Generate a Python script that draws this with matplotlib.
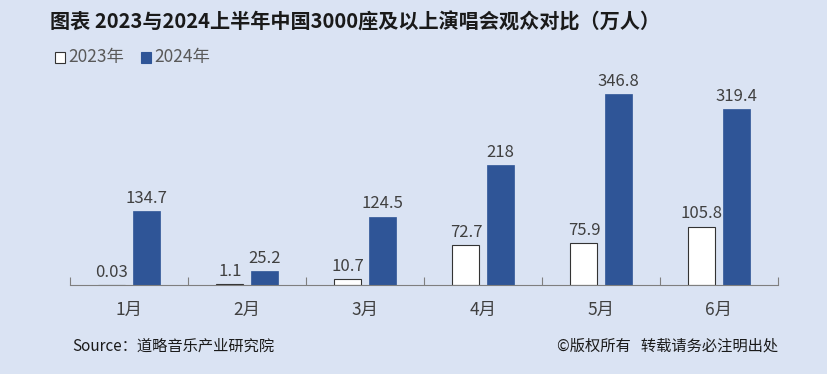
import matplotlib
matplotlib.use("Agg")
import matplotlib.pyplot as plt
import numpy as np
from matplotlib.patches import Rectangle

plt.rcParams['font.family'] = ['Noto Sans CJK SC', 'DejaVu Sans']

months = ["1月", "2月", "3月", "4月", "5月", "6月"]
v2023 = [0.03, 1.1, 10.7, 72.7, 75.9, 105.8]
v2024 = [134.7, 25.2, 124.5, 218, 346.8, 319.4]
labels2023 = ["0.03", "1.1", "10.7", "72.7", "75.9", "105.8"]
labels2024 = ["134.7", "25.2", "124.5", "218", "346.8", "319.4"]

W, H = 828, 374
bg = "#dae3f3"
blue = "#2f5597"
fig = plt.figure(figsize=(W/100, H/100), dpi=100, facecolor=bg)

ax_l, ax_r, ax_b, ax_t = 70, 778, 285, 65
ax = fig.add_axes([ax_l/W, 1-ax_b/H, (ax_r-ax_l)/W, (ax_b-ax_t)/H])
ax.set_facecolor(bg)
x = np.arange(len(months))
bw = 0.23
off = 0.145
ax.bar(x-off, v2023, bw, color="white", edgecolor="#333333", linewidth=0.8)
ax.bar(x+off, v2024, bw, color=blue, edgecolor=blue, linewidth=0.5)
for i in range(len(months)):
    ax.text(x[i]-off, v2023[i]+8, labels2023[i], ha="center", va="bottom", fontsize=12, color="#404040")
    ax.text(x[i]+off, v2024[i]+8, labels2024[i], ha="center", va="bottom", fontsize=12, color="#404040")
ax.set_xlim(-0.5, len(months)-0.5)
ax.set_ylim(0, 400)
ax.set_yticks([])
for s in ["top", "right", "left"]:
    ax.spines[s].set_visible(False)
ax.spines["bottom"].set_color("#7f7f7f")
ax.set_xticks(np.arange(len(months)+1)-0.5)
ax.set_xticklabels([])
ax.tick_params(axis="x", length=6, color="#7f7f7f", direction="in")
for i, m in enumerate(months):
    ax.text(x[i], -25/0.55, m, ha="center", va="center", fontsize=12.5, color="#404040")

fig.text(50/W, 1-22/H, "图表 2023与2024上半年中国3000座及以上演唱会观众对比（万人）",
         fontsize=14.5, fontweight="bold", color="#1a1a1a", va="center", ha="left")

# legend
fig.patches.append(Rectangle((55/W, 1-63/H), 10/W, 11/H, transform=fig.transFigure,
                             facecolor="white", edgecolor="#333333", linewidth=0.8))
fig.text(68/W, 1-57/H, "2023年", fontsize=12.5, color="#595959", va="center", ha="left")
fig.patches.append(Rectangle((141/W, 1-63/H), 10/W, 11/H, transform=fig.transFigure,
                             facecolor=blue, edgecolor=blue, linewidth=0.8))
fig.text(154/W, 1-57/H, "2024年", fontsize=12.5, color="#595959", va="center", ha="left")

fig.text(72/W, 1-346/H, "Source：道略音乐产业研究院", fontsize=11, color="#1a1a1a", va="center", ha="left")
fig.text(778/W, 1-346/H, "©版权所有   转载请务必注明出处", fontsize=11, color="#1a1a1a", va="center", ha="right")

fig.savefig("out.png", dpi=100, facecolor=bg)
